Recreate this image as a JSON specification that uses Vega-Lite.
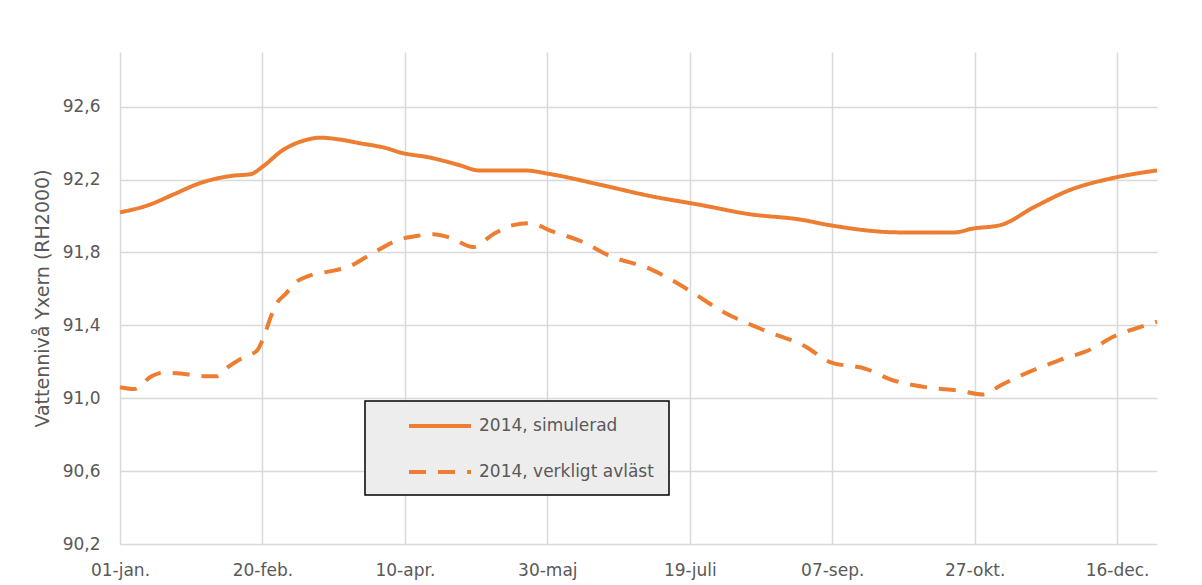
{
  "$schema": "https://vega.github.io/schema/vega-lite/v6.json",
  "width": 1037,
  "height": 492,
  "autosize": {"type": "none"},
  "padding": {"left": 120, "top": 52, "right": 45, "bottom": 41},
  "background": "white",
  "config": {
    "view": {"stroke": null},
    "font": "DejaVu Sans",
    "axis": {"labelColor": "#595959", "titleColor": "#595959", "labelFont": "DejaVu Sans", "titleFont": "DejaVu Sans", "gridColor": "#d9d9d9", "gridWidth": 1.5, "ticks": false, "domain": false},
    "legend": {"labelFont": "DejaVu Sans"}
  },
  "data": {
    "values": [
      {"day": 0, "level": 92.02, "serie": "2014, simulerad"},
      {"day": 10, "level": 92.06, "serie": "2014, simulerad"},
      {"day": 19, "level": 92.12, "serie": "2014, simulerad"},
      {"day": 28, "level": 92.18, "serie": "2014, simulerad"},
      {"day": 39, "level": 92.22, "serie": "2014, simulerad"},
      {"day": 46, "level": 92.23, "serie": "2014, simulerad"},
      {"day": 50, "level": 92.27, "serie": "2014, simulerad"},
      {"day": 57, "level": 92.36, "serie": "2014, simulerad"},
      {"day": 66, "level": 92.42, "serie": "2014, simulerad"},
      {"day": 70, "level": 92.43, "serie": "2014, simulerad"},
      {"day": 77, "level": 92.42, "serie": "2014, simulerad"},
      {"day": 84, "level": 92.40, "serie": "2014, simulerad"},
      {"day": 94, "level": 92.37, "serie": "2014, simulerad"},
      {"day": 98, "level": 92.35, "serie": "2014, simulerad"},
      {"day": 109, "level": 92.32, "serie": "2014, simulerad"},
      {"day": 119, "level": 92.28, "serie": "2014, simulerad"},
      {"day": 126, "level": 92.25, "serie": "2014, simulerad"},
      {"day": 142, "level": 92.25, "serie": "2014, simulerad"},
      {"day": 151, "level": 92.23, "serie": "2014, simulerad"},
      {"day": 169, "level": 92.17, "serie": "2014, simulerad"},
      {"day": 186, "level": 92.11, "serie": "2014, simulerad"},
      {"day": 204, "level": 92.06, "serie": "2014, simulerad"},
      {"day": 221, "level": 92.01, "serie": "2014, simulerad"},
      {"day": 239, "level": 91.98, "serie": "2014, simulerad"},
      {"day": 249, "level": 91.95, "serie": "2014, simulerad"},
      {"day": 274, "level": 91.91, "serie": "2014, simulerad"},
      {"day": 293, "level": 91.91, "serie": "2014, simulerad"},
      {"day": 299, "level": 91.93, "serie": "2014, simulerad"},
      {"day": 309, "level": 91.95, "serie": "2014, simulerad"},
      {"day": 321, "level": 92.05, "serie": "2014, simulerad"},
      {"day": 333, "level": 92.14, "serie": "2014, simulerad"},
      {"day": 349, "level": 92.21, "serie": "2014, simulerad"},
      {"day": 364, "level": 92.25, "serie": "2014, simulerad"},
      {"day": 0, "level": 91.06, "serie": "2014, verkligt avläst"},
      {"day": 5, "level": 91.05, "serie": "2014, verkligt avläst"},
      {"day": 11, "level": 91.12, "serie": "2014, verkligt avläst"},
      {"day": 15, "level": 91.14, "serie": "2014, verkligt avläst"},
      {"day": 24, "level": 91.13, "serie": "2014, verkligt avläst"},
      {"day": 27, "level": 91.12, "serie": "2014, verkligt avläst"},
      {"day": 34, "level": 91.12, "serie": "2014, verkligt avläst"},
      {"day": 37, "level": 91.16, "serie": "2014, verkligt avläst"},
      {"day": 44, "level": 91.23, "serie": "2014, verkligt avläst"},
      {"day": 48, "level": 91.26, "serie": "2014, verkligt avläst"},
      {"day": 51, "level": 91.36, "serie": "2014, verkligt avläst"},
      {"day": 53, "level": 91.45, "serie": "2014, verkligt avläst"},
      {"day": 55, "level": 91.52, "serie": "2014, verkligt avläst"},
      {"day": 58, "level": 91.57, "serie": "2014, verkligt avläst"},
      {"day": 62, "level": 91.64, "serie": "2014, verkligt avläst"},
      {"day": 66, "level": 91.67, "serie": "2014, verkligt avläst"},
      {"day": 75, "level": 91.70, "serie": "2014, verkligt avläst"},
      {"day": 80, "level": 91.72, "serie": "2014, verkligt avläst"},
      {"day": 87, "level": 91.78, "serie": "2014, verkligt avläst"},
      {"day": 98, "level": 91.87, "serie": "2014, verkligt avläst"},
      {"day": 104, "level": 91.89, "serie": "2014, verkligt avläst"},
      {"day": 110, "level": 91.90, "serie": "2014, verkligt avläst"},
      {"day": 116, "level": 91.88, "serie": "2014, verkligt avläst"},
      {"day": 124, "level": 91.83, "serie": "2014, verkligt avläst"},
      {"day": 131, "level": 91.90, "serie": "2014, verkligt avläst"},
      {"day": 138, "level": 91.95, "serie": "2014, verkligt avläst"},
      {"day": 144, "level": 91.96, "serie": "2014, verkligt avläst"},
      {"day": 151, "level": 91.92, "serie": "2014, verkligt avläst"},
      {"day": 162, "level": 91.86, "serie": "2014, verkligt avläst"},
      {"day": 172, "level": 91.78, "serie": "2014, verkligt avläst"},
      {"day": 186, "level": 91.71, "serie": "2014, verkligt avläst"},
      {"day": 200, "level": 91.59, "serie": "2014, verkligt avläst"},
      {"day": 211, "level": 91.48, "serie": "2014, verkligt avläst"},
      {"day": 225, "level": 91.38, "serie": "2014, verkligt avläst"},
      {"day": 241, "level": 91.28, "serie": "2014, verkligt avläst"},
      {"day": 249, "level": 91.20, "serie": "2014, verkligt avläst"},
      {"day": 262, "level": 91.16, "serie": "2014, verkligt avläst"},
      {"day": 271, "level": 91.10, "serie": "2014, verkligt avläst"},
      {"day": 283, "level": 91.06, "serie": "2014, verkligt avläst"},
      {"day": 295, "level": 91.04, "serie": "2014, verkligt avläst"},
      {"day": 303, "level": 91.02, "serie": "2014, verkligt avläst"},
      {"day": 309, "level": 91.07, "serie": "2014, verkligt avläst"},
      {"day": 320, "level": 91.15, "serie": "2014, verkligt avläst"},
      {"day": 330, "level": 91.21, "serie": "2014, verkligt avläst"},
      {"day": 341, "level": 91.27, "serie": "2014, verkligt avläst"},
      {"day": 349, "level": 91.34, "serie": "2014, verkligt avläst"},
      {"day": 358, "level": 91.39, "serie": "2014, verkligt avläst"},
      {"day": 364, "level": 91.42, "serie": "2014, verkligt avläst"}
    ]
  },
  "mark": {"type": "line", "strokeWidth": 4, "interpolate": "monotone"},
  "encoding": {
    "x": {
      "field": "day", "type": "quantitative",
      "scale": {"domain": [0, 364], "nice": false, "zero": false},
      "axis": {
        "title": null,
        "values": [0, 50, 100, 150, 200, 250, 300, 350],
        "labelExpr": "['01-jan.','20-feb.','10-apr.','30-maj','19-juli','07-sep.','27-okt.','16-dec.'][round(datum.value/50)]",
        "labelFontSize": 17, "labelPadding": 18, "labelFlush": false
      }
    },
    "y": {
      "field": "level", "type": "quantitative",
      "scale": {"domain": [90.2, 92.9], "nice": false, "zero": false},
      "axis": {
        "title": "Vattennivå Yxern (RH2000)",
        "values": [90.2, 90.6, 91.0, 91.4, 91.8, 92.2, 92.6],
        "labelExpr": "replace(format(datum.value, '.1f'), '.', ',')",
        "labelFontSize": 17, "labelPadding": 20,
        "titleFontSize": 19, "titleFontWeight": "normal", "titlePadding": 10
      }
    },
    "color": {
      "field": "serie", "type": "nominal",
      "scale": {"range": ["#ED7D31", "#ED7D31"]},
      "legend": {
        "title": null, "orient": "none", "legendX": 245, "legendY": 349,
        "fillColor": "#ededed", "strokeColor": "#000000", "padding": 15,
        "symbolType": "stroke", "symbolSize": 3844, "symbolStrokeWidth": 4,
        "labelFontSize": 17, "labelColor": "#595959", "labelOffset": 6, "labelLimit": 400,
        "labelExpr": "datum.label + '\u00a0\u00a0\u00a0\u00a0\u00a0\u00a0\u00a0\u00a0'",
        "symbolOffset": 27, "rowPadding": 28,
        "encode": {
          "legend": {"update": {"strokeWidth": {"value": 1.5}}},
          "symbols": {"update": {"y": {"value": 10}}},
          "labels": {"update": {"y": {"value": 10}}}
        }
      }
    },
    "strokeDash": {
      "field": "serie", "type": "nominal",
      "scale": {"range": [[1, 0], [17, 12]]},
      "legend": null
    }
  }
}
